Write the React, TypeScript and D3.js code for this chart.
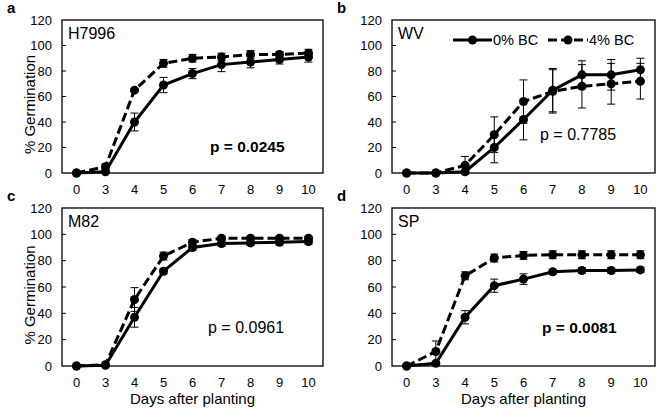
import * as d3 from "d3";

const DAYS = ["0", "3", "4", "5", "6", "7", "8", "9", "10"];
const Y_TICKS = [0, 20, 40, 60, 80, 100, 120];

// H7996
const h7996Ctrl = [0, 1, 40, 69, 78, 85, 87, 89, 91];
const h7996CtrlErr = [0, 1, 7, 6, 4, 5.5, 4.5, 3.5, 4];
const h7996Bc = [0, 5, 65, 86, 90, 91, 93, 93, 94];
const h7996BcErr = [0, 2, 1, 3, 3, 3, 3, 2, 3];

// WV
const wvCtrl = [0, 0, 1, 20, 42, 65, 77, 77, 81];
const wvCtrlErr = [0, 0, 0, 12, 16, 17, 11, 12, 9];
const wvBc = [0, 0, 6, 30, 56, 64, 68, 70, 72];
const wvBcErr = [0, 0, 7, 14, 17, 17, 17, 16, 14];

// M82
const m82Ctrl = [0, 0.5, 37, 72, 90, 93, 93.5, 94, 94.5];
const m82CtrlErr = [0, 0, 7.5, 2, 2, 2, 2, 2, 2];
const m82Bc = [0, 1, 50.5, 83.5, 94, 97, 97, 97, 97];
const m82BcErr = [0, 0, 9, 3, 2, 1.5, 1.5, 1.5, 1.5];

// SP
const spCtrl = [0, 2, 37, 61, 66, 71.5, 72.5, 72.5, 73];
const spCtrlErr = [0, 1, 5, 5, 4, 2, 2, 2, 2];
const spBc = [0, 11, 68.5, 82, 84, 84.5, 84.5, 84.5, 84.5];
const spBcErr = [0, 8, 3, 3, 3, 3, 3, 3, 3];

const FONT = "'Liberation Sans', Arial, sans-serif";
const DASH = "9,4";

type PanelProps = {
  letter: string;
  title: string;
  ctrl: number[];
  ctrlErr: number[];
  bc: number[];
  bcErr: number[];
  pText: string;
  pBold: boolean;
  left: number;
  top: number;
  right: number;
  bottom: number;
  yLabel: boolean;
  xLabel: boolean;
  legend: boolean;
  pX: number;
  pY: number;
};

function Series({ vals, errs, x, y, dashed }: { vals: number[]; errs: number[]; x: d3.ScalePoint<string>; y: d3.ScaleLinear<number, number>; dashed: boolean }) {
  const line = d3
    .line<number>()
    .x((_, i) => x(DAYS[i]) as number)
    .y((d) => y(d));
  return (
    <g>
      {vals.map((v, i) =>
        errs[i] > 0 ? (
          <g key={"e" + i} stroke="#000" strokeWidth={1}>
            <line x1={x(DAYS[i])} x2={x(DAYS[i])} y1={y(v - errs[i])} y2={y(v + errs[i])} />
            <line x1={(x(DAYS[i]) as number) - 4} x2={(x(DAYS[i]) as number) + 4} y1={y(v - errs[i])} y2={y(v - errs[i])} />
            <line x1={(x(DAYS[i]) as number) - 4} x2={(x(DAYS[i]) as number) + 4} y1={y(v + errs[i])} y2={y(v + errs[i])} />
          </g>
        ) : null
      )}
      <path d={line(vals) || ""} fill="none" stroke="#000" strokeWidth={3} strokeDasharray={dashed ? DASH : undefined} />
      {vals.map((v, i) => (
        <circle key={"c" + i} cx={x(DAYS[i])} cy={y(v)} r={4.5} fill="#000" />
      ))}
    </g>
  );
}

function Panel(p: PanelProps) {
  const x = d3.scalePoint<string>().domain(DAYS).range([p.left, p.right]).padding(0.5);
  const y = d3.scaleLinear().domain([0, 120]).range([p.bottom, p.top]);
  const cx = (p.left + p.right) / 2;
  return (
    <g fontFamily={FONT} fill="#000">
      <text x={p.left - 55} y={p.top - 7} fontSize={15} fontWeight="bold">{p.letter}</text>
      {Y_TICKS.map((t) => (
        <g key={t}>
          <text x={p.left - 10} y={y(t) + 4.5} fontSize={13} textAnchor="end">{t}</text>
          {t > 0 && t < 120 ? <line x1={p.left} x2={p.left + 4} y1={y(t)} y2={y(t)} stroke="#000" strokeWidth={1} /> : null}
        </g>
      ))}
      {DAYS.map((d) => (
        <text key={d} x={x(d)} y={p.bottom + 21} fontSize={13} textAnchor="middle">{d}</text>
      ))}
      <Series vals={p.ctrl} errs={p.ctrlErr} x={x} y={y} dashed={false} />
      <Series vals={p.bc} errs={p.bcErr} x={x} y={y} dashed={true} />
      <rect x={p.left} y={p.top} width={p.right - p.left} height={p.bottom - p.top} fill="none" stroke="#000" strokeWidth={1.3} />
      <text x={p.left + 6} y={p.top + 19} fontSize={16}>{p.title}</text>
      <text x={p.pX} y={p.pY} fontSize={p.pBold ? 15.5 : 16} fontWeight={p.pBold ? "bold" : "normal"}>{p.pText}</text>
      {p.yLabel ? (
        <text transform={`translate(${p.left - 27},${(p.top + p.bottom) / 2 + 8}) rotate(-90)`} fontSize={15} textAnchor="middle">% Germination</text>
      ) : null}
      {p.xLabel ? (
        <text x={cx} y={p.bottom + 38} fontSize={15} textAnchor="middle">Days after planting</text>
      ) : null}
      {p.legend ? (
        <g>
          <line x1={453} x2={492} y1={40} y2={40} stroke="#000" strokeWidth={3} />
          <circle cx={472.5} cy={40} r={4.5} fill="#000" />
          <text x={493} y={45} fontSize={14.5}>0% BC</text>
          <line x1={548} x2={588} y1={40} y2={40} stroke="#000" strokeWidth={3} strokeDasharray={DASH} />
          <circle cx={568} cy={40} r={4.5} fill="#000" />
          <text x={589} y={45} fontSize={14.5}>4% BC</text>
        </g>
      ) : null}
    </g>
  );
}

export default function App() {
  return (
    <div style={{ position: "absolute", left: 0, top: 0 }}>
      <svg width={660} height={418} viewBox="0 0 660 418" style={{ display: "block", background: "#fff" }}>
        <Panel letter="a" title="H7996" ctrl={h7996Ctrl} ctrlErr={h7996CtrlErr} bc={h7996Bc} bcErr={h7996BcErr}
          pText="p = 0.0245" pBold={true} left={62} top={20} right={323} bottom={173}
          yLabel={true} xLabel={false} legend={false} pX={210} pY={152} />
        <Panel letter="b" title="WV" ctrl={wvCtrl} ctrlErr={wvCtrlErr} bc={wvBc} bcErr={wvBcErr}
          pText="p = 0.7785" pBold={false} left={392} top={20} right={655} bottom={173}
          yLabel={false} xLabel={false} legend={true} pX={540} pY={140} />
        <Panel letter="c" title="M82" ctrl={m82Ctrl} ctrlErr={m82CtrlErr} bc={m82Bc} bcErr={m82BcErr}
          pText="p = 0.0961" pBold={false} left={62} top={208} right={323} bottom={366}
          yLabel={true} xLabel={true} legend={false} pX={208} pY={333} />
        <Panel letter="d" title="SP" ctrl={spCtrl} ctrlErr={spCtrlErr} bc={spBc} bcErr={spBcErr}
          pText="p = 0.0081" pBold={true} left={392} top={208} right={655} bottom={366}
          yLabel={false} xLabel={true} legend={false} pX={542} pY={333} />
      </svg>
    </div>
  );
}
